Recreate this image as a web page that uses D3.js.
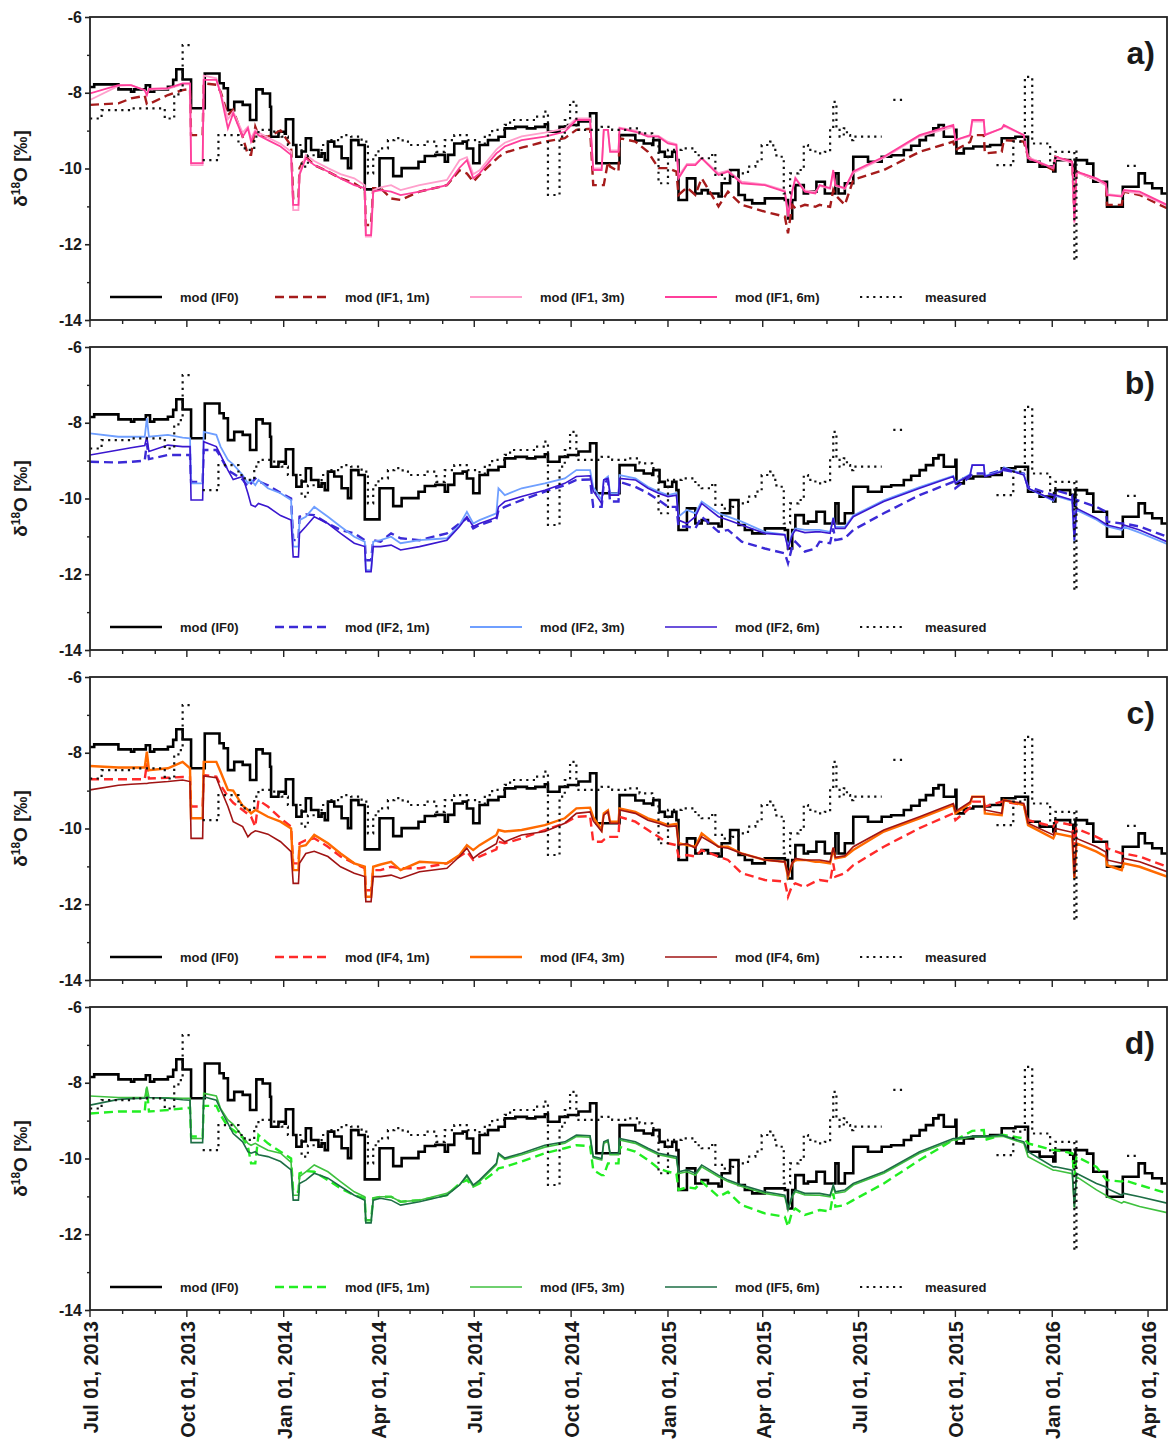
<!DOCTYPE html>
<html>
<head>
<meta charset="utf-8">
<title>δ18O – modelled vs. measured</title>
<script src="https://cdn.jsdelivr.net/npm/d3@7/dist/d3.min.js"></script>
<style>
  body { margin: 0; background: #fff; }
  svg text { font-family: "Liberation Sans", Arial, sans-serif; font-weight: bold; fill: #1a1a1a; }
</style>
</head>
<body>
<svg id="chart" width="1170" height="1450"></svg>
<script>
// ---------------- data ----------------
// Common output dates of the infiltration model runs (IF1 … IF5)
const gridDates = [
"2013-07-01","2013-07-28","2013-08-09","2013-08-22","2013-08-24","2013-08-26","2013-09-13","2013-09-27","2013-10-04","2013-10-05",
"2013-10-16","2013-10-17","2013-10-29","2013-11-02","2013-11-09","2013-11-14","2013-11-23","2013-11-28","2013-12-01","2013-12-05",
"2013-12-08","2013-12-17","2013-12-29","2014-01-08","2014-01-10","2014-01-15","2014-01-16","2014-01-22","2014-01-30","2014-02-12",
"2014-02-24","2014-03-09","2014-03-19","2014-03-20","2014-03-25","2014-03-27","2014-04-03","2014-04-13","2014-04-22","2014-05-10",
"2014-06-05","2014-06-17",
"2014-06-24","2014-06-30","2014-07-06","2014-07-22","2014-07-24","2014-07-30","2014-08-15","2014-09-06","2014-09-25","2014-10-06",
"2014-10-19","2014-10-22","2014-10-30","2014-11-01","2014-11-05","2014-11-07","2014-11-15","2014-11-16","2014-12-01","2014-12-13",
"2014-12-23","2015-01-01","2015-01-09","2015-01-11","2015-01-19","2015-01-27","2015-02-02","2015-02-18","2015-02-27","2015-03-12",
"2015-04-03","2015-04-22","2015-04-25","2015-04-29","2015-05-02","2015-05-11","2015-05-21",
"2015-05-25","2015-06-04","2015-06-07","2015-06-09","2015-06-18","2015-06-26","2015-07-25","2015-08-28","2015-09-29","2015-10-01",
"2015-10-15","2015-10-17","2015-10-28","2015-10-29","2015-11-14","2015-11-16","2015-12-05","2015-12-09","2016-01-02","2016-01-04",
"2016-01-20","2016-01-22","2016-01-24","2016-02-12","2016-02-21","2016-02-22","2016-03-07","2016-03-09","2016-03-24","2016-04-19"
];

const if1_1m = [
-8.32,-8.28,-8.15,-8.08,-8.30,-8.30,-8.06,-7.93,-7.90,-9.12,-9.12,-7.75,-7.79,-7.97,-8.59,-8.45,-9.16,-9.64,-9.64,-8.90,
-9.12,-9.16,-9.00,-9.40,-10.79,-10.79,-9.99,-9.69,-9.91,-10.08,-10.26,-10.39,-10.57,-11.49,-11.49,-10.52,-10.52,-10.79,-10.83,-10.61,
-10.44,-10.05,
-10.13,-10.35,-10.17,-9.75,-9.70,-9.58,-9.45,-9.29,-9.20,-8.98,-8.95,-10.44,-10.44,-10.44,-9.82,-9.95,-10.08,-9.20,-9.29,-9.56,
-9.99,-9.99,-10.08,-10.70,-10.50,-10.70,-10.26,-11.00,-10.61,-10.96,-11.14,-11.27,-11.71,-10.96,-11.05,-10.96,-11.01,
-10.96,-11.01,-10.57,-10.70,-10.96,-10.30,-10.04,-9.56,-9.29,-9.51,-9.30,-9.12,-9.12,-9.60,-9.56,-9.25,-9.29,-9.69,-10.04,-9.69,
-9.82,-11.20,-10.08,-10.30,-10.40,-10.96,-10.96,-10.61,-10.70,-11.05
];
const if1_3m = [
-8.19,-7.82,-7.80,-7.93,-8.06,-7.92,-7.90,-7.78,-7.78,-9.91,-9.91,-7.55,-7.62,-8.00,-8.70,-8.50,-9.05,-8.90,-9.20,-8.98,
-9.05,-9.18,-9.35,-9.55,-11.10,-11.10,-10.13,-9.64,-9.80,-9.99,-10.15,-10.26,-10.44,-11.80,-11.80,-10.57,-10.50,-10.44,-10.57,-10.44,
-10.30,-9.78,
-9.70,-10.15,-10.05,-9.50,-9.45,-9.32,-9.15,-9.05,-8.95,-8.68,-8.68,-10.00,-10.00,-8.98,-8.98,-9.52,-9.52,-8.92,-9.00,-9.12,
-9.14,-9.30,-9.36,-10.20,-9.88,-9.88,-9.72,-10.12,-10.05,-10.35,-10.42,-10.58,-11.22,-10.58,-10.24,-10.58,-10.62,
-10.46,-10.54,-10.10,-10.46,-10.54,-10.12,-9.72,-9.15,-8.90,-9.25,-9.14,-8.76,-8.76,-9.10,-8.95,-8.88,-9.12,-9.70,-9.99,-9.72,
-9.85,-11.45,-10.10,-10.30,-10.45,-10.68,-10.72,-10.60,-10.66,-10.98
];
const if1_6m = [
-8.02,-7.80,-7.80,-7.93,-8.06,-7.90,-7.88,-7.75,-7.75,-9.86,-9.86,-7.66,-7.66,-8.02,-8.94,-8.54,-9.16,-8.94,-9.29,-9.03,
-9.12,-9.25,-9.42,-9.64,-10.96,-10.96,-10.17,-9.73,-9.91,-10.08,-10.26,-10.44,-10.52,-11.76,-11.76,-10.61,-10.57,-10.61,-10.70,-10.61,
-10.44,-9.98,
-9.78,-10.26,-10.13,-9.60,-9.56,-9.42,-9.25,-9.16,-9.03,-8.72,-8.72,-10.04,-10.04,-8.98,-8.98,-9.56,-9.56,-8.94,-9.03,-9.16,
-9.16,-9.34,-9.38,-10.26,-9.91,-9.91,-9.73,-10.17,-10.08,-10.39,-10.44,-10.61,-11.27,-10.61,-10.26,-10.61,-10.66,
-10.44,-10.52,-10.04,-10.44,-10.52,-10.08,-9.69,-9.12,-8.85,-9.25,-9.12,-8.72,-8.72,-9.12,-8.94,-8.85,-9.12,-9.73,-9.99,-9.69,
-9.82,-11.40,-10.08,-10.26,-10.40,-10.70,-10.74,-10.57,-10.61,-10.96
];

const if2_1m = [
-9.03,-9.05,-9.03,-9.00,-8.54,-8.96,-8.85,-8.85,-8.85,-9.56,-9.56,-8.72,-8.72,-8.90,-9.25,-9.34,-9.50,-9.69,-9.60,-9.47,
-9.55,-9.65,-9.85,-10.00,-11.10,-11.10,-10.48,-10.42,-10.44,-10.66,-10.83,-10.92,-11.10,-11.63,-11.63,-11.10,-11.14,-10.92,-11.05,-11.10,
-10.92,-10.66,
-10.52,-10.79,-10.70,-10.55,-10.31,-10.22,-10.04,-9.82,-9.65,-9.51,-9.50,-10.22,-10.22,-9.60,-9.51,-10.08,-10.08,-9.56,-9.69,-9.86,
-10.04,-10.22,-10.22,-10.74,-10.74,-10.79,-10.48,-10.88,-10.83,-11.14,-11.32,-11.45,-11.71,-11.27,-11.14,-11.40,-11.32,
-11.14,-11.18,-10.79,-11.10,-11.05,-10.83,-10.39,-9.91,-9.56,-9.73,-9.42,-9.34,-9.34,-9.38,-9.25,-9.25,-9.34,-9.69,-9.91,-9.78,
-9.91,-10.97,-10.04,-10.22,-10.35,-10.61,-10.66,-10.66,-10.74,-11.01
];
const if2_3m = [
-8.28,-8.37,-8.37,-8.37,-7.88,-8.37,-8.32,-8.39,-8.41,-9.60,-9.60,-8.24,-8.32,-8.63,-8.98,-9.10,-9.38,-9.60,-9.51,-9.65,
-9.51,-9.73,-9.86,-10.04,-11.27,-11.27,-10.57,-10.48,-10.22,-10.48,-10.74,-11.01,-11.14,-11.89,-11.89,-11.14,-11.10,-11.01,-11.18,-11.10,
-11.05,-10.70,
-10.35,-10.66,-10.57,-10.39,-9.73,-9.91,-9.73,-9.60,-9.47,-9.25,-9.25,-9.70,-10.04,-9.51,-9.42,-9.86,-9.86,-9.38,-9.47,-9.69,
-9.82,-9.91,-9.86,-10.48,-10.30,-10.39,-10.08,-10.39,-10.48,-10.61,-10.88,-10.95,-11.27,-10.92,-10.79,-10.83,-10.83,
-10.83,-10.88,-10.50,-10.75,-10.75,-10.45,-10.05,-9.70,-9.40,-9.58,-9.36,-9.12,-9.12,-9.40,-9.27,-9.18,-9.36,-9.73,-10.06,-9.93,
-10.06,-11.15,-10.30,-10.56,-10.72,-10.74,-10.83,-10.75,-10.90,-11.20
];
const if2_6m = [
-8.85,-8.72,-8.66,-8.60,-8.37,-8.76,-8.59,-8.63,-8.63,-10.04,-10.04,-8.50,-8.63,-8.85,-9.25,-9.50,-9.42,-9.86,-10.17,-10.22,
-10.13,-10.22,-10.45,-10.57,-11.54,-11.54,-10.92,-10.74,-10.48,-10.66,-10.92,-11.18,-11.27,-11.93,-11.93,-11.27,-11.27,-11.23,-11.36,-11.27,
-11.10,-10.74,
-10.48,-10.74,-10.66,-10.50,-10.22,-10.08,-9.95,-9.78,-9.60,-9.42,-9.40,-9.80,-10.13,-9.51,-9.47,-9.91,-9.91,-9.47,-9.51,-9.73,
-9.86,-9.95,-9.91,-10.57,-10.66,-10.48,-10.13,-10.48,-10.57,-10.70,-10.92,-10.96,-11.32,-10.97,-10.83,-10.90,-10.88,
-10.88,-10.92,-10.52,-10.79,-10.79,-10.48,-10.08,-9.73,-9.42,-9.60,-9.38,-9.12,-9.12,-9.42,-9.29,-9.20,-9.38,-9.73,-10.04,-9.91,
-10.04,-11.10,-10.26,-10.52,-10.68,-10.70,-10.79,-10.70,-10.83,-11.14
];

const if4_1m = [
-8.70,-8.70,-8.70,-8.70,-8.28,-8.68,-8.66,-8.64,-8.65,-9.42,-9.42,-8.59,-8.63,-8.85,-9.16,-9.32,-9.51,-9.62,-9.69,-9.95,
-9.25,-9.42,-9.73,-9.95,-10.92,-10.92,-10.39,-10.31,-10.26,-10.48,-10.74,-10.92,-11.05,-11.63,-11.63,-11.10,-11.10,-11.01,-11.05,-11.05,
-10.92,-10.74,
-10.61,-10.83,-10.74,-10.55,-10.35,-10.39,-10.26,-10.04,-9.86,-9.69,-9.67,-10.35,-10.35,-10.30,-10.22,-10.22,-10.22,-9.69,-9.82,-10.04,
-10.22,-10.39,-10.44,-10.74,-10.70,-10.74,-10.57,-10.74,-10.83,-11.18,-11.36,-11.40,-11.80,-11.50,-11.45,-11.54,-11.40,
-11.36,-11.40,-10.92,-11.27,-11.18,-10.97,-10.48,-9.99,-9.60,-9.78,-9.45,-9.29,-9.29,-9.42,-9.29,-9.29,-9.38,-9.78,-9.95,-9.82,
-9.91,-10.50,-10.00,-10.22,-10.35,-10.52,-10.66,-10.66,-10.74,-11.01
];
const if4_3m = [
-8.35,-8.39,-8.39,-8.39,-7.97,-8.46,-8.41,-8.24,-8.41,-9.73,-9.73,-8.24,-8.24,-8.50,-8.98,-9.00,-9.40,-9.51,-9.60,-9.51,
-9.55,-9.69,-9.82,-10.00,-11.10,-11.10,-10.48,-10.44,-10.17,-10.39,-10.66,-10.92,-11.01,-11.80,-11.80,-11.01,-10.95,-10.88,-11.10,-10.88,
-10.92,-10.70,
-10.44,-10.57,-10.44,-10.17,-10.04,-10.08,-10.04,-9.91,-9.73,-9.47,-9.45,-9.70,-10.04,-9.60,-9.52,-9.82,-9.82,-9.47,-9.56,-9.73,
-9.82,-9.91,-9.88,-10.39,-10.44,-10.48,-10.13,-10.48,-10.48,-10.66,-10.83,-10.88,-11.27,-10.92,-10.83,-10.83,-10.88,
-10.88,-10.92,-10.52,-10.79,-10.74,-10.57,-10.08,-9.73,-9.38,-9.60,-9.34,-9.16,-9.16,-9.60,-9.65,-9.25,-9.38,-9.91,-10.26,-10.13,
-10.22,-11.32,-10.39,-10.61,-10.75,-10.97,-11.10,-10.92,-11.01,-11.27
];
const if4_6m = [
-8.98,-8.86,-8.83,-8.81,-8.81,-8.80,-8.76,-8.72,-8.76,-10.26,-10.26,-8.61,-8.66,-8.95,-9.42,-9.82,-9.95,-10.22,-10.13,-10.06,
-10.08,-10.15,-10.35,-10.61,-11.45,-11.45,-10.92,-10.66,-10.60,-10.74,-11.01,-11.18,-11.27,-11.93,-11.93,-11.27,-11.27,-11.23,-11.32,-11.14,
-11.05,-10.74,
-10.52,-10.79,-10.66,-10.40,-10.22,-10.35,-10.17,-10.08,-9.86,-9.60,-9.56,-9.80,-10.08,-9.65,-9.56,-9.86,-9.86,-9.51,-9.60,-9.78,
-9.86,-9.95,-9.93,-10.44,-10.40,-10.52,-10.22,-10.48,-10.52,-10.66,-10.83,-10.88,-11.23,-10.92,-10.79,-10.83,-10.83,
-10.83,-10.88,-10.50,-10.76,-10.72,-10.48,-10.04,-9.69,-9.34,-9.55,-9.30,-9.16,-9.16,-9.51,-9.60,-9.25,-9.34,-9.86,-10.17,-10.00,
-10.10,-11.27,-10.26,-10.48,-10.62,-10.83,-10.92,-10.79,-10.88,-11.14
];

const if5_1m = [
-8.81,-8.76,-8.76,-8.76,-8.15,-8.76,-8.72,-8.68,-8.66,-9.42,-9.42,-8.61,-8.61,-8.85,-9.16,-9.25,-9.45,-9.69,-10.13,-10.13,
-9.38,-9.60,-9.82,-10.00,-10.88,-10.88,-10.39,-10.33,-10.35,-10.57,-10.79,-10.97,-11.05,-11.63,-11.63,-11.05,-11.01,-11.01,-11.14,-11.10,
-10.97,-10.66,
-10.57,-10.74,-10.66,-10.33,-10.26,-10.22,-10.08,-9.86,-9.73,-9.65,-9.67,-10.30,-10.44,-10.44,-10.13,-10.13,-10.13,-9.69,-9.82,-10.04,
-10.26,-10.35,-10.40,-10.83,-10.76,-10.79,-10.61,-11.01,-10.88,-11.23,-11.45,-11.54,-11.80,-11.40,-11.32,-11.49,-11.40,
-11.36,-11.40,-10.92,-11.27,-11.23,-11.10,-10.66,-10.04,-9.51,-9.51,-9.30,-9.27,-9.25,-9.51,-9.38,-9.38,-9.47,-9.60,-9.78,-9.78,
-9.86,-10.48,-9.95,-10.22,-10.55,-10.57,-10.61,-10.57,-10.70,-10.92
];
const if5_3m = [
-8.35,-8.39,-8.39,-8.39,-8.10,-8.39,-8.40,-8.41,-8.41,-9.47,-9.47,-8.28,-8.35,-8.68,-8.98,-9.10,-9.42,-9.60,-9.65,-9.60,
-9.65,-9.78,-9.86,-10.10,-10.97,-10.97,-10.48,-10.35,-10.17,-10.35,-10.61,-10.88,-11.01,-11.63,-11.63,-11.05,-11.01,-11.01,-11.14,-11.10,
-10.92,-10.70,
-10.48,-10.74,-10.61,-10.17,-9.90,-10.02,-9.90,-9.70,-9.60,-9.42,-9.44,-9.98,-10.04,-9.60,-9.55,-9.90,-9.90,-9.51,-9.60,-9.77,
-9.90,-9.95,-10.00,-10.40,-10.35,-10.44,-10.22,-10.48,-10.61,-10.74,-10.92,-11.01,-11.36,-11.01,-10.88,-10.96,-10.97,
-10.97,-11.01,-10.75,-10.92,-10.88,-10.70,-10.39,-9.86,-9.51,-9.51,-9.44,-9.42,-9.44,-9.44,-9.42,-9.42,-9.60,-9.95,-10.31,-10.31,
-10.40,-11.30,-10.48,-10.83,-10.97,-11.01,-11.18,-11.14,-11.27,-11.43
];
const if5_6m = [
-8.59,-8.44,-8.42,-8.41,-8.38,-8.39,-8.41,-8.45,-8.46,-9.58,-9.58,-8.37,-8.46,-8.70,-9.07,-9.34,-9.56,-9.82,-9.86,-9.82,
-9.90,-9.95,-10.08,-10.30,-11.10,-11.10,-10.66,-10.57,-10.39,-10.52,-10.74,-10.97,-11.10,-11.70,-11.70,-11.10,-11.05,-11.10,-11.23,-11.14,
-10.97,-10.70,
-10.44,-10.70,-10.57,-10.13,-9.86,-9.99,-9.86,-9.65,-9.56,-9.38,-9.40,-9.95,-10.00,-9.56,-9.51,-9.86,-9.86,-9.47,-9.56,-9.73,
-9.86,-9.91,-9.95,-10.35,-10.30,-10.39,-10.17,-10.44,-10.57,-10.70,-10.88,-10.97,-11.32,-10.97,-10.83,-10.92,-10.92,
-10.92,-10.97,-10.70,-10.88,-10.83,-10.66,-10.35,-9.82,-9.47,-9.47,-9.42,-9.41,-9.42,-9.42,-9.38,-9.40,-9.56,-9.82,-10.22,-10.22,
-10.31,-11.27,-10.39,-10.66,-10.75,-10.79,-10.97,-10.92,-11.01,-11.18
];

// Reference run without infiltration (IF0) – stepwise output
const if0Dates = [
"2013-07-01","2013-07-05","2013-07-28","2013-08-09","2013-08-12","2013-08-23","2013-08-27","2013-08-31","2013-09-13","2013-09-18",
"2013-09-21","2013-09-27","2013-10-05","2013-10-18","2013-11-01","2013-11-05","2013-11-09","2013-11-15","2013-11-23","2013-11-30",
"2013-12-06","2013-12-12","2013-12-19","2013-12-20","2013-12-27","2014-01-02","2014-01-03","2014-01-10","2014-01-13","2014-01-18",
"2014-01-22","2014-01-27","2014-02-03","2014-02-06","2014-02-09","2014-02-12","2014-02-18","2014-02-25","2014-03-03","2014-03-06",
"2014-03-13","2014-03-19","2014-04-02","2014-04-15","2014-04-23","2014-05-09","2014-05-15","2014-05-25","2014-06-03","2014-06-06",
"2014-06-12","2014-06-20","2014-06-24","2014-06-30","2014-07-06","2014-07-14","2014-07-24","2014-07-30","2014-08-09","2014-08-20",
"2014-08-28","2014-09-06","2014-09-09","2014-09-20","2014-09-28","2014-10-08","2014-10-19","2014-10-25","2014-11-16","2014-12-01",
"2014-12-09","2014-12-17","2014-12-18","2014-12-24","2014-12-29","2015-01-05","2015-01-09","2015-01-11","2015-01-19","2015-01-27",
"2015-02-02","2015-02-08","2015-02-18","2015-02-21","2015-03-01","2015-03-09","2015-03-15","2015-03-22","2015-04-03","2015-04-22",
"2015-04-25","2015-04-29","2015-05-02","2015-05-10","2015-05-14","2015-05-22","2015-05-30","2015-06-09","2015-06-12","2015-06-18",
"2015-06-26","2015-07-10","2015-07-23","2015-08-01","2015-08-13","2015-08-20","2015-08-28","2015-09-03","2015-09-10","2015-09-15",
"2015-09-20","2015-10-01","2015-10-02","2015-10-09","2015-10-18","2015-11-03","2015-11-14","2015-11-27","2015-12-09","2015-12-20",
"2016-01-02","2016-01-04","2016-01-18","2016-01-21","2016-01-23","2016-02-03","2016-02-09","2016-02-22","2016-03-08","2016-03-23",
"2016-03-29","2016-04-05","2016-04-14","2016-04-19"
];
const if0Values = [
-7.85,-7.78,-7.91,-7.97,-7.91,-7.80,-7.97,-7.91,-7.84,-7.66,
-7.38,-7.65,-8.41,-7.49,-7.75,-7.88,-8.46,-8.24,-8.32,-8.72,
-7.91,-8.02,-8.37,-9.16,-9.03,-9.08,-8.70,-9.38,-9.69,-9.55,
-9.20,-9.51,-9.69,-9.60,-9.78,-9.29,-9.42,-9.73,-9.99,-9.25,
-9.38,-10.55,-9.73,-10.20,-9.99,-9.82,-9.67,-9.64,-9.82,-9.64,
-9.34,-9.29,-9.47,-9.86,-9.38,-9.25,-9.16,-8.94,-8.90,-8.94,
-8.90,-8.83,-9.03,-8.90,-8.85,-8.76,-8.54,-9.86,-9.12,-9.26,
-9.34,-9.38,-9.25,-9.56,-9.69,-9.56,-9.78,-10.83,-10.26,-10.66,
-10.57,-10.66,-10.74,-10.39,-10.04,-10.70,-10.83,-10.92,-10.79,-10.83,
-11.32,-10.83,-10.44,-10.66,-10.61,-10.35,-10.66,-10.13,-10.66,-10.39,
-9.69,-9.82,-9.69,-9.65,-9.51,-9.40,-9.25,-9.12,-8.94,-8.85,
-9.16,-8.98,-9.60,-9.47,-9.42,-9.38,-9.20,-9.16,-9.82,-9.95,
-10.08,-9.78,-9.90,-10.20,-9.78,-9.87,-10.35,-11.01,-10.48,-10.13,
-10.39,-10.52,-10.66,-10.66
];

// Measured δ18O (null = no sample)
const measuredDates = [
"2013-07-01","2013-07-12","2013-08-09","2013-09-10","2013-09-19","2013-09-23","2013-09-27","2013-10-04","2013-10-05","2013-10-16",
"2013-10-31","2013-11-19","2013-11-25","2013-12-04","2013-12-08","2013-12-23","2013-12-30","2014-01-05","2014-01-18","2014-01-24",
"2014-02-06","2014-02-12","2014-02-25","2014-03-06","2014-03-16","2014-03-22","2014-03-27","2014-04-01","2014-04-10","2014-04-16",
"2014-04-24","2014-04-29","2014-05-15","2014-05-26","2014-06-03","2014-06-12","2014-06-25","2014-07-06","2014-07-11","2014-07-18",
"2014-07-30","2014-08-04","2014-08-28","2014-09-05","2014-09-09","2014-09-20","2014-09-25","2014-09-30","2014-10-06","2014-10-30",
"2014-11-09","2014-11-24","2014-12-05","2014-12-17","2014-12-23","2015-01-01","2015-01-14","2015-01-27","2015-02-02","2015-02-12",
"2015-02-15","2015-02-24","2015-03-03","2015-03-09","2015-03-18","2015-03-25","2015-03-31","2015-04-08","2015-04-11","2015-04-14",
"2015-04-21","2015-04-27","2015-05-05","2015-05-10","2015-05-14","2015-05-21","2015-05-30","2015-06-04","2015-06-07","2015-06-10",
"2015-06-13","2015-06-17","2015-06-20","2015-06-23","2015-06-26","2015-07-23","2015-07-24","2015-08-03","2015-08-13","2015-08-14",
"2015-11-09","2015-11-25","2015-12-06","2015-12-13","2015-12-30","2016-01-04","2016-01-22","2016-01-24","2016-01-27","2016-01-28",
"2016-03-12","2016-03-21"
];
const measuredValues = [
-8.68,-8.46,-8.41,-8.68,-8.10,-7.93,-6.74,-6.74,null,-9.78,
-9.12,-9.38,-9.51,-9.16,-8.98,-9.07,-9.16,-9.38,-9.95,-9.65,
-9.38,-9.25,-9.12,-9.16,-9.29,-10.13,-9.65,-9.47,-9.25,-9.20,
-9.29,-9.38,-9.29,-9.56,-9.25,-9.12,-9.25,-9.34,-9.12,-8.98,
-8.85,-8.72,-8.63,-8.50,-10.70,-9.16,-8.72,-8.24,-8.98,-8.90,
-8.98,-8.94,-9.07,-9.20,-10.39,-9.51,-9.47,-9.65,-9.73,-9.60,
-10.17,-10.31,-10.22,-10.13,-9.95,-9.82,-9.38,-9.29,-9.51,-9.69,
-10.66,-10.13,-10.04,-9.38,-9.51,-9.60,-9.56,-8.90,-8.24,-8.98,
-9.16,-8.94,-9.12,-9.25,-9.16,-9.16,null,-8.19,-8.19,null,
-9.91,-9.29,-7.58,-9.34,-9.86,-9.56,-12.42,-9.51,-9.51,null,
-9.93,-9.93
];

// Axis ticks
const yTickValues = [-14, -12, -10, -8, -6];
const yMinorTicks = [-13, -11, -9, -7];
const xDomain = ["2013-07-01", "2016-04-19"];
const xTickLabels = [
"2013-07-01","2013-10-01","2014-01-01","2014-04-01","2014-07-01","2014-10-01",
"2015-01-01","2015-04-01","2015-07-01","2015-10-01","2016-01-01","2016-04-01"
];

// Panels: letter, legend names and line styles per run
const panelLetters = ["a)", "b)", "c)", "d)"];
const panelRuns = [
  [ {name:"mod (IF1, 1m)", values:if1_1m, color:"#a51b1b", dash:"9,5", width:2.4},
    {name:"mod (IF1, 3m)", values:if1_3m, color:"#ff9fcc", dash:null, width:1.8},
    {name:"mod (IF1, 6m)", values:if1_6m, color:"#ff3f9b", dash:null, width:1.8} ],
  [ {name:"mod (IF2, 1m)", values:if2_1m, color:"#3b2ad6", dash:"9,5", width:2.4},
    {name:"mod (IF2, 3m)", values:if2_3m, color:"#6f9fff", dash:null, width:1.8},
    {name:"mod (IF2, 6m)", values:if2_6m, color:"#3a17cf", dash:null, width:1.6} ],
  [ {name:"mod (IF4, 1m)", values:if4_1m, color:"#ff2a2a", dash:"9,5", width:2.4},
    {name:"mod (IF4, 3m)", values:if4_3m, color:"#ff6a00", dash:null, width:2.4},
    {name:"mod (IF4, 6m)", values:if4_6m, color:"#a01414", dash:null, width:1.6} ],
  [ {name:"mod (IF5, 1m)", values:if5_1m, color:"#22ee22", dash:"9,5", width:2.4},
    {name:"mod (IF5, 3m)", values:if5_3m, color:"#3fc13f", dash:null, width:1.6},
    {name:"mod (IF5, 6m)", values:if5_6m, color:"#1d6e45", dash:null, width:1.6} ]
];

// ---------------- drawing ----------------
const svg = d3.select("#chart");
const parse = d3.utcParse("%Y-%m-%d");
const left = 90, right = 1167, panelH = 303;
const panelTops = [17, 347, 677, 1007];

const x = d3.scaleUtc().domain(xDomain.map(parse)).range([left, right]);
const grid = gridDates.map(parse);
const if0 = if0Dates.map((d, i) => ({t: parse(d), v: if0Values[i]}));
const measured = measuredDates.map((d, i) => ({t: parse(d), v: measuredValues[i]}));

panelTops.forEach((top, p) => {
  const y = d3.scaleLinear().domain([-14, -6]).range([top + panelH, top]);
  const g = svg.append("g");
  const clipId = "clip" + p;
  svg.append("clipPath").attr("id", clipId)
    .append("rect").attr("x", left).attr("y", top).attr("width", right - left).attr("height", panelH);

  const stepLine = d3.line().curve(d3.curveStepAfter)
    .defined(d => d.v != null).x(d => x(d.t)).y(d => y(d.v));
  const runLine = d3.line().x(d => x(d.t)).y(d => y(d.v));

  const plot = g.append("g").attr("clip-path", `url(#${clipId})`);

  // IF0 reference
  plot.append("path").datum(if0).attr("d", stepLine)
    .attr("fill", "none").attr("stroke", "#000").attr("stroke-width", 2.6)
    .attr("stroke-linejoin", "miter");

  // infiltration runs
  panelRuns[p].forEach(r => {
    const pts = grid.map((t, i) => ({t, v: r.values[i]}));
    plot.append("path").datum(pts).attr("d", runLine)
      .attr("fill", "none").attr("stroke", r.color).attr("stroke-width", r.width)
      .attr("stroke-dasharray", r.dash);
  });

  // measured
  plot.append("path").datum(measured).attr("d", stepLine)
    .attr("fill", "none").attr("stroke", "#111").attr("stroke-width", 2.2)
    .attr("stroke-dasharray", "2.2,4.4");

  // frame
  g.append("rect").attr("x", left).attr("y", top).attr("width", right - left).attr("height", panelH)
    .attr("fill", "none").attr("stroke", "#222").attr("stroke-width", 1.8);

  // y axis
  const yAxis = g.append("g").attr("transform", `translate(${left},0)`)
    .call(d3.axisLeft(y).tickValues(yTickValues).tickSize(5).tickPadding(3).tickFormat(d => String(d)));
  yAxis.select(".domain").remove();
  yAxis.selectAll("line").attr("stroke", "#222").attr("stroke-width", 1.6);
  yAxis.selectAll("text").attr("font-size", 16).attr("fill", "#1a1a1a");
  const yMinor = g.append("g").attr("transform", `translate(${left},0)`)
    .call(d3.axisLeft(y).tickValues(yMinorTicks).tickSize(3).tickFormat(""));
  yMinor.select(".domain").remove();
  yMinor.selectAll("line").attr("stroke", "#222").attr("stroke-width", 1.4);

  // x axis (month ticks, quarter ticks longer)
  const months = d3.utcMonth.range(x.domain()[0], x.domain()[1]);
  const xAxis = g.append("g").attr("transform", `translate(0,${top + panelH})`);
  xAxis.selectAll("line").data(months).join("line")
    .attr("x1", d => x(d)).attr("x2", d => x(d))
    .attr("y1", 0).attr("y2", d => (d.getUTCMonth() % 3 === 0) ? 7 : 4)
    .attr("stroke", "#222").attr("stroke-width", 1.4);

  // y label
  const yl = g.append("text")
    .attr("transform", `translate(27,${top + panelH / 2}) rotate(-90)`)
    .attr("text-anchor", "middle").attr("font-size", 19);
  yl.append("tspan").text("δ");
  yl.append("tspan").attr("dy", -7).attr("font-size", 12).text("18");
  yl.append("tspan").attr("dy", 7).text("O [‰]");

  // panel letter
  g.append("text").attr("x", 1155).attr("y", top + 47).attr("text-anchor", "end")
    .attr("font-size", 32).text(panelLetters[p]);

  // legend
  const legendItems = [
    {name:"mod (IF0)", color:"#000", dash:null, width:2.6},
    ...panelRuns[p],
    {name:"measured", color:"#111", dash:"2.2,4.4", width:2.2}
  ];
  const lineX = [110, 275, 470, 665, 860];
  const ly = top + 280;
  legendItems.forEach((it, i) => {
    g.append("line").attr("x1", lineX[i]).attr("x2", lineX[i] + (i === 4 ? 46 : 52))
      .attr("y1", ly).attr("y2", ly)
      .attr("stroke", it.color).attr("stroke-width", it.width).attr("stroke-dasharray", it.dash);
    g.append("text").attr("x", lineX[i] + (i === 4 ? 65 : 70)).attr("y", ly + 5)
      .attr("font-size", 13).text(it.name);
  });

  // date labels under the last panel
  if (p === panelTops.length - 1) {
    const fmt = d3.utcFormat("%b %d, %Y");
    g.selectAll("text.xl").data(xTickLabels.map(parse)).join("text")
      .attr("class", "xl")
      .attr("transform", d => `translate(${x(d) + 8},${top + panelH + 11}) rotate(-90)`)
      .attr("text-anchor", "end").attr("font-size", 20)
      .text(d => fmt(d));
  }
});
</script>
</body>
</html>
